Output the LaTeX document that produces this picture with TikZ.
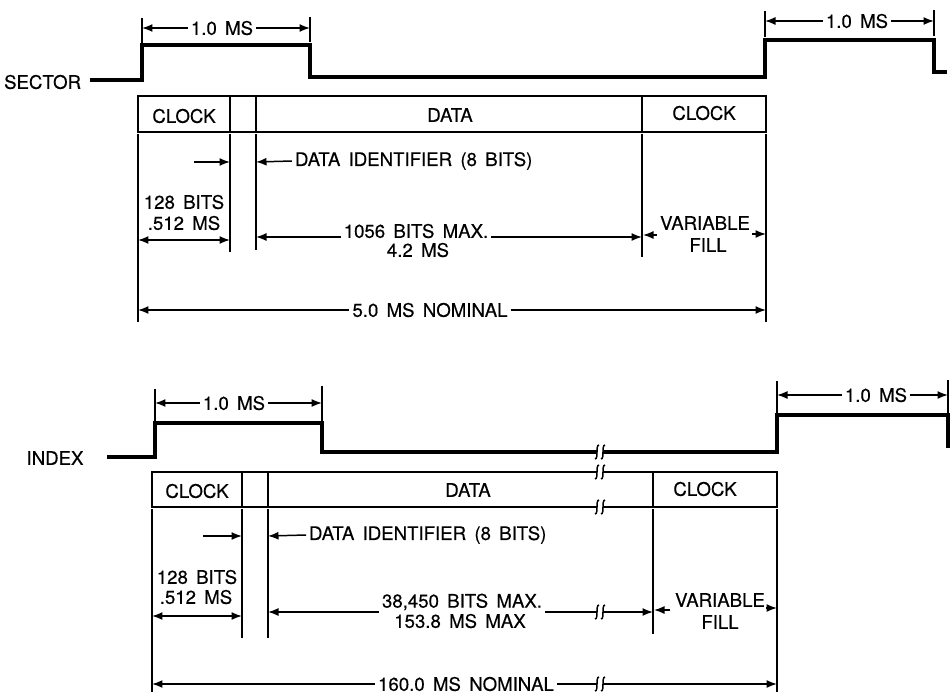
\documentclass[tikz,border=0pt]{standalone}
\usepackage{fontspec}
\setmainfont{TeX Gyre Heros}[WordSpace=1.6,FakeBold=0.35]
\usetikzlibrary{arrows.meta}
\newcommand\brkS[2]{%
  \draw[brkline] ({#1-2},{#2+7}) .. controls ({#1},{#2+7}) and ({#1},{#2+3}) .. ({#1},{#2})
     .. controls ({#1},{#2-3}) and ({#1},{#2-7}) .. ({#1+2},{#2-7});}
\newcommand\brkmark[2]{\brkS{#1-3}{#2}\brkS{#1+3}{#2}}
\begin{document}
\begin{tikzpicture}[x=0.02cm,y=-0.02cm,
  font=\fontsize{10.6}{12}\selectfont,
  wave/.style={line width=1.8pt,line join=miter},
  frame/.style={line width=1.6pt},
  ext/.style={line width=0.85pt},
  dim/.style={line width=0.85pt},
  arr/.style={dim,-{Latex[length=2.1mm,width=1.6mm]}},
  darr/.style={dim,{Latex[length=2.1mm,width=1.6mm]}-{Latex[length=2.1mm,width=1.6mm]}},
  lbl/.style={inner sep=1.5pt},
  brkline/.style={line width=0.85pt}]
\useasboundingbox (0,0) rectangle (950,696);

% ================= TOP: SECTOR =================
\node[lbl,anchor=east] (sector) at (84,82) {SECTOR};
\coordinate (s0) at (90,80);
\coordinate (s1) at (142,80);
\coordinate (s2) at (142,45);
\coordinate (s3) at (310,45);
\coordinate (s4) at (310,77);
\coordinate (s5) at (765,77);
\coordinate (s6) at (765,40);
\coordinate (s7) at (934,40);
\coordinate (s8) at (934,72);
\coordinate (s9) at (947,72);
\draw[wave] (s0) -- (s1) -- (s2) -- (s3) -- (s4) -- (s5) -- (s6) -- (s7) -- (s8) -- (s9);

% 1.0 MS (left)
\draw[ext] (142,18) -- (142,43);
\draw[ext] (310,17) -- (310,42);
\coordinate (a1L) at (142,28);
\coordinate (a1R) at (310,28);
\node[lbl] (t1) at (222,28) {1.0 MS};
\draw[arr] (t1.west) -- (a1L);
\draw[arr] (t1.east) -- (a1R);

% 1.0 MS (right)
\draw[ext] (765,11) -- (765,37);
\draw[ext] (934,10) -- (934,36);
\coordinate (a2L) at (765,21);
\coordinate (a2R) at (934,21);
\node[lbl] (t2) at (857,21) {1.0 MS};
\draw[arr] (t2.west) -- (a2L);
\draw[arr] (t2.east) -- (a2R);

% frame
\draw[frame] (138,96) rectangle (766,132);
\draw[frame] (230,96) -- (230,132);
\draw[frame] (256,96) -- (256,132);
\draw[frame] (642,96) -- (642,132);
\node (clk1) at (184,116) {CLOCK};
\node (data1) at (450,115) {DATA};
\node (clk2) at (704,113) {CLOCK};

% extension lines
\coordinate (e1) at (138,322);
\coordinate (e2) at (230,252);
\coordinate (e3) at (256,250);
\coordinate (e4) at (642,257);
\coordinate (e5) at (766,322);
\draw[ext] (138,134) -- (e1);
\draw[ext] (230,134) -- (e2);
\draw[ext] (256,134) -- (e3);
\draw[ext] (642,134) -- (e4);
\draw[ext] (766,134) -- (e5);

% data identifier
\coordinate (di1a) at (194,162);
\coordinate (di1b) at (230,162);
\coordinate (di1c) at (256,162);
\draw[arr] (di1a) -- (di1b);
\node[lbl,anchor=west] (did1) at (292,161) {DATA IDENTIFIER (8 BITS)};
\draw[arr] (did1.west) -- (di1c);

% 128 bits
\node[lbl] (b128a) at (184,202) {128 BITS};
\node[lbl] (ms512a) at (184,223) {.512 MS};
\coordinate (c128L) at (138,240);
\coordinate (c128R) at (230,240);
\draw[darr] (c128L) -- (c128R);

% 1056 bits
\coordinate (y1056) at (0,237);
\node[lbl] (n1056) at (416,231) {1056 BITS MAX.};
\node[lbl] (n42) at (418,250) {4.2 MS};
\draw[arr] (n1056.west |- y1056) -- (256,237);
\draw[arr] (n1056.east |- y1056) -- (642,237);

% variable fill
\node[lbl] (var1) at (705,223) {VARIABLE};
\node[lbl] (fill1) at (708,245) {FILL};
\draw[arr] (657,235) -- (643,235);
\draw[arr] (752,234) -- (766,234);

% 5.0 MS nominal
\node[lbl] (n50) at (430,310) {5.0 MS NOMINAL};
\draw[arr] (n50.west) -- (138,310);
\draw[arr] (n50.east) -- (766,310);

% ================= BOTTOM: INDEX =================
\node[lbl] (index) at (55,458) {INDEX};
\coordinate (i0) at (107,457);
\coordinate (i1) at (155,457);
\coordinate (i2) at (155,423);
\coordinate (i3) at (322,423);
\coordinate (i4) at (322,452);
\coordinate (i5) at (597,452);
\coordinate (i6) at (603,452);
\coordinate (i7) at (777,452);
\coordinate (i8) at (777,415);
\coordinate (i9) at (948,415);
\coordinate (i10) at (948,448);
\draw[wave] (i0) -- (i1) -- (i2) -- (i3) -- (i4) -- (i5);
\draw[wave] (i6) -- (i7) -- (i8) -- (i9) -- (i10);
\brkmark{600}{452}

% 1.0 MS (left)
\draw[ext] (155,389) -- (155,422);
\draw[ext] (322,386) -- (322,422);
\coordinate (a3L) at (155,403);
\coordinate (a3R) at (322,403);
\node[lbl] (t3) at (234,403) {1.0 MS};
\draw[arr] (t3.west) -- (a3L);
\draw[arr] (t3.east) -- (a3R);

% 1.0 MS (right)
\draw[ext] (777,381) -- (777,414);
\draw[ext] (948,380) -- (948,414);
\coordinate (a4L) at (777,395);
\coordinate (a4R) at (948,395);
\node[lbl] (t4) at (876,395) {1.0 MS};
\draw[arr] (t4.west) -- (a4L);
\draw[arr] (t4.east) -- (a4R);

% frame
\draw[frame] (597,472) -- (152,472) -- (152,507) -- (597,507);
\draw[frame] (603,472) -- (777,472) -- (777,507) -- (603,507);
\draw[frame] (242,472) -- (242,507);
\draw[frame] (268,472) -- (268,507);
\draw[frame] (653,472) -- (653,507);
\brkmark{600}{472}
\brkmark{600}{507}
\node (clk3) at (197,491) {CLOCK};
\node (data2) at (468,490) {DATA};
\node (clk4) at (705,489) {CLOCK};

% extension lines
\coordinate (f1) at (152,692);
\coordinate (f2) at (242,638);
\coordinate (f3) at (268,638);
\coordinate (f4) at (653,634);
\coordinate (f5) at (777,692);
\draw[ext] (152,509) -- (f1);
\draw[ext] (242,509) -- (f2);
\draw[ext] (268,509) -- (f3);
\draw[ext] (653,509) -- (f4);
\draw[ext] (777,509) -- (f5);

% data identifier
\coordinate (di2a) at (203,536);
\coordinate (di2b) at (242,536);
\coordinate (di2c) at (268,536);
\draw[arr] (di2a) -- (di2b);
\node[lbl,anchor=west] (did2) at (306,535) {DATA IDENTIFIER (8 BITS)};
\draw[arr] (did2.west) -- (di2c);

% 128 bits
\node[lbl] (b128b) at (197,577) {128 BITS};
\node[lbl] (ms512b) at (196,597) {.512 MS};
\coordinate (c128L2) at (152,616);
\coordinate (c128R2) at (242,616);
\draw[darr] (c128L2) -- (c128R2);

% 38,450 bits
\coordinate (y38) at (0,612);
\node[lbl] (n38) at (462,602) {38,450 BITS MAX.};
\node[lbl] (n153) at (460,621) {153.8 MS MAX};
\draw[arr] (n38.west |- y38) -- (268,612);
\draw[dim] (n38.east |- y38) -- (597,612);
\draw[arr] (603,612) -- (653,612);
\brkmark{600}{612}

% variable fill
\node[lbl] (var2) at (720,600) {VARIABLE};
\node[lbl] (fill2) at (720,622) {FILL};
\draw[arr] (670,610) -- (654,610);
\draw[arr] (766,608) -- (777,608);

% 160.0 MS nominal
\node[lbl] (n160) at (466,684) {160.0 MS NOMINAL};
\draw[arr] (n160.west) -- (152,684);
\draw[dim] (n160.east) -- (597,684);
\draw[arr] (603,684) -- (777,684);
\brkmark{600}{684}
\end{tikzpicture}
\end{document}
